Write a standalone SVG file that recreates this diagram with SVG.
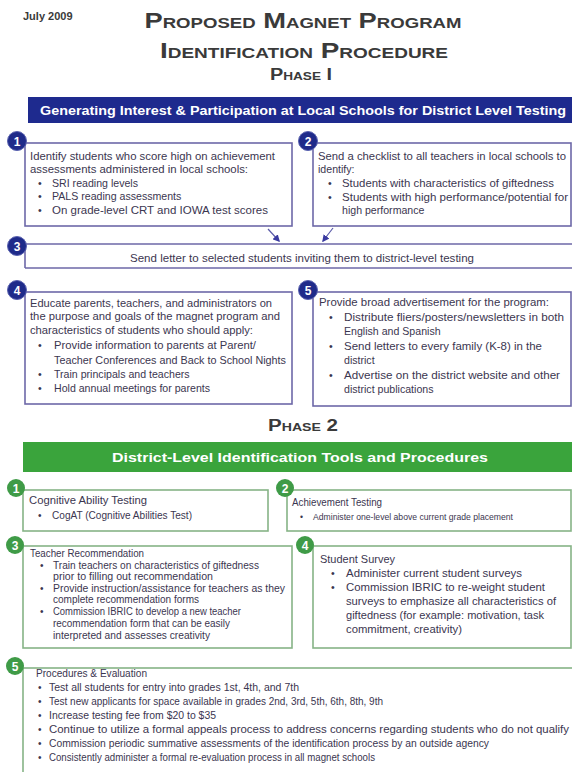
<svg xmlns="http://www.w3.org/2000/svg" width="572" height="772" viewBox="0 0 572 772">
<style>
text{font-family:"Liberation Sans",Arial,sans-serif;fill:#3b3650}
.t{font-size:10.6px}
.s{font-size:10px}
.xs{font-size:8.6px}
.hd{font-weight:bold;fill:#3a3a3a}
.ban{font-weight:bold;fill:#fff;font-size:12.5px}
.bx1{fill:#fff;stroke:#6d68a8;stroke-width:1.6}
.bx2{fill:#fff;stroke:#86b386;stroke-width:1.6}
.bd1{fill:#1f2b8a;stroke:#5a62b0;stroke-width:1}
.bd2{fill:#3f9b47}
.num{font-weight:bold;fill:#fff;font-size:12px;text-anchor:middle}
.arr{stroke:#5a5aa8;stroke-width:1.2;fill:none}
</style>
<defs>
<marker id="ah" viewBox="0 0 10 10" refX="8" refY="5" markerWidth="6" markerHeight="6" orient="auto-start-reverse">
<path d="M0,0 L10,5 L0,10 z" fill="#3a3aa0"/>
</marker>
</defs>
<rect width="572" height="772" fill="#fff"/>

<g id="header">
<text x="23" y="20" class="hd" font-size="11">July 2009</text>
<text x="303" y="28" class="hd" font-size="22" text-anchor="middle" font-variant="small-caps" textLength="317" lengthAdjust="spacingAndGlyphs">Proposed Magnet Program</text>
<text x="304" y="58" class="hd" font-size="22" text-anchor="middle" font-variant="small-caps" textLength="288" lengthAdjust="spacingAndGlyphs">Identification Procedure</text>
<text x="301" y="80" class="hd" font-size="16" text-anchor="middle" font-variant="small-caps" textLength="62" lengthAdjust="spacingAndGlyphs">Phase I</text>
<text x="303" y="431" class="hd" font-size="16" text-anchor="middle" font-variant="small-caps" textLength="70" lengthAdjust="spacingAndGlyphs">Phase 2</text>
</g>

<g id="banner1">
<rect x="28" y="97" width="544" height="26" fill="#1e2a8e"/>
<text x="303" y="115" class="ban" text-anchor="middle" textLength="526" lengthAdjust="spacingAndGlyphs">Generating Interest &amp; Participation at Local Schools for District Level Testing</text>
</g>

<g id="p1-box1">
<rect x="25" y="143" width="267" height="83" class="bx1"/>
<circle cx="17" cy="141" r="9.5" class="bd1"/><text x="17" y="145.5" class="num">1</text>
<text class="t" x="30" y="160" textLength="245" lengthAdjust="spacingAndGlyphs">Identify students who score high on achievement</text>
<text class="t" x="30" y="173" textLength="218" lengthAdjust="spacingAndGlyphs">assessments administered in local schools:</text>
<text class="t" x="38" y="187">•</text><text class="t" x="52" y="187">SRI reading levels</text>
<text class="t" x="38" y="200">•</text><text class="t" x="52" y="200">PALS reading assessments</text>
<text class="t" x="38" y="214">•</text><text class="t" x="52" y="214" textLength="216" lengthAdjust="spacingAndGlyphs">On grade-level CRT and IOWA test scores</text>
</g>

<g id="p1-box2">
<rect x="313" y="143" width="258" height="83" class="bx1"/>
<circle cx="308" cy="141" r="9.5" class="bd1"/><text x="308" y="145.5" class="num">2</text>
<text class="t" x="318" y="160" textLength="248" lengthAdjust="spacingAndGlyphs">Send a checklist to all teachers in local schools to</text>
<text class="t" x="318" y="173">identify:</text>
<text class="t" x="328" y="187">•</text><text class="t" x="342" y="187" textLength="212" lengthAdjust="spacingAndGlyphs">Students with characteristics of giftedness</text>
<text class="t" x="328" y="201">•</text><text class="t" x="342" y="201" textLength="226" lengthAdjust="spacingAndGlyphs">Students with high performance/potential for</text>
<text class="t" x="342" y="214">high performance</text>
</g>

<g id="p1-box3">
<path d="M25,244 H572 M25,268 H572 M25,244 V268" class="bx1" fill="none"/>
<circle cx="17" cy="246" r="9.5" class="bd1"/><text x="17" y="250.5" class="num">3</text>
<text class="t" x="302" y="262" text-anchor="middle" textLength="344" lengthAdjust="spacingAndGlyphs">Send letter to selected students inviting them to district-level testing</text>
</g>

<g id="p1-box4">
<rect x="25" y="292" width="267" height="112" class="bx1"/>
<circle cx="17" cy="290" r="9.5" class="bd1"/><text x="17" y="294.5" class="num">4</text>
<text class="t" x="30" y="307" textLength="242" lengthAdjust="spacingAndGlyphs">Educate parents, teachers, and administrators on</text>
<text class="t" x="30" y="320" textLength="250" lengthAdjust="spacingAndGlyphs">the purpose and goals of the magnet program and</text>
<text class="t" x="30" y="334" textLength="223" lengthAdjust="spacingAndGlyphs">characteristics of students who should apply:</text>
<text class="t" x="38" y="349">•</text><text class="t" x="54" y="349" textLength="202" lengthAdjust="spacingAndGlyphs">Provide information to parents at Parent/</text>
<text class="t" x="54" y="364" textLength="232" lengthAdjust="spacingAndGlyphs">Teacher Conferences and Back to School Nights</text>
<text class="t" x="38" y="378">•</text><text class="t" x="54" y="378">Train principals and teachers</text>
<text class="t" x="38" y="392">•</text><text class="t" x="54" y="392">Hold annual meetings for parents</text>
</g>

<g id="p1-box5">
<rect x="313" y="292" width="258" height="114" class="bx1"/>
<circle cx="308" cy="290" r="9.5" class="bd1"/><text x="308" y="294.5" class="num">5</text>
<text class="t" x="319" y="306" textLength="230" lengthAdjust="spacingAndGlyphs">Provide broad advertisement for the program:</text>
<text class="t" x="329" y="321">•</text><text class="t" x="344" y="321" textLength="220" lengthAdjust="spacingAndGlyphs">Distribute fliers/posters/newsletters in both</text>
<text class="t" x="344" y="335">English and Spanish</text>
<text class="t" x="329" y="350">•</text><text class="t" x="344" y="350" textLength="198" lengthAdjust="spacingAndGlyphs">Send letters to every family (K-8) in the</text>
<text class="t" x="344" y="364">district</text>
<text class="t" x="329" y="379">•</text><text class="t" x="344" y="379" textLength="216" lengthAdjust="spacingAndGlyphs">Advertise on the district website and other</text>
<text class="t" x="344" y="393">district publications</text>
</g>

<g id="connectors">
<line x1="268" y1="229" x2="279" y2="241" class="arr" marker-end="url(#ah)"/>
<line x1="333" y1="228" x2="323" y2="241" class="arr" marker-end="url(#ah)"/>
</g>

<g id="banner2">
<rect x="23" y="442" width="549" height="30" fill="#3aa43c"/>
<text x="300" y="462" class="ban" font-size="14" text-anchor="middle" textLength="376" lengthAdjust="spacingAndGlyphs">District-Level Identification Tools and Procedures</text>
</g>

<g id="p2-box1">
<rect x="23" y="490" width="245" height="41" class="bx2"/>
<circle cx="16" cy="488" r="9" class="bd2"/><text x="16" y="492.5" class="num">1</text>
<text class="s" x="29" y="504" textLength="118" lengthAdjust="spacingAndGlyphs">Cognitive Ability Testing</text>
<text class="s" x="38" y="519">•</text><text class="s" x="52" y="519" textLength="140" lengthAdjust="spacingAndGlyphs">CogAT (Cognitive Abilities Test)</text>
</g>

<g id="p2-box2">
<rect x="287" y="490" width="284" height="41" class="bx2"/>
<circle cx="285" cy="488" r="9" class="bd2"/><text x="285" y="492.5" class="num">2</text>
<text class="s" x="292" y="506" textLength="90" lengthAdjust="spacingAndGlyphs">Achievement Testing</text>
<text class="xs" x="300" y="520">•</text><text class="xs" x="313" y="520" textLength="200" lengthAdjust="spacingAndGlyphs">Administer one-level above current grade placement</text>
</g>

<g id="p2-box3">
<rect x="23" y="546" width="269" height="102" class="bx2"/>
<circle cx="15" cy="545" r="9" class="bd2"/><text x="15" y="549.5" class="num">3</text>
<text class="s" x="30" y="557" textLength="114" lengthAdjust="spacingAndGlyphs">Teacher Recommendation</text>
<text class="s" x="40" y="569">•</text><text class="s" x="53" y="569" textLength="206" lengthAdjust="spacingAndGlyphs">Train teachers on characteristics of giftedness</text>
<text class="s" x="53" y="580" textLength="160" lengthAdjust="spacingAndGlyphs">prior to filling out recommendation</text>
<text class="s" x="40" y="592">•</text><text class="s" x="53" y="592" textLength="232" lengthAdjust="spacingAndGlyphs">Provide instruction/assistance for teachers as they</text>
<text class="s" x="53" y="603" textLength="146" lengthAdjust="spacingAndGlyphs">complete recommendation forms</text>
<text class="s" x="40" y="615">•</text><text class="s" x="53" y="615" textLength="188" lengthAdjust="spacingAndGlyphs">Commission IBRIC to develop a new teacher</text>
<text class="s" x="53" y="627" textLength="177" lengthAdjust="spacingAndGlyphs">recommendation form that can be easily</text>
<text class="s" x="53" y="639" textLength="157" lengthAdjust="spacingAndGlyphs">interpreted and assesses creativity</text>
</g>

<g id="p2-box4">
<rect x="313" y="546" width="258" height="102" class="bx2"/>
<circle cx="305" cy="545" r="9" class="bd2"/><text x="305" y="549.5" class="num">4</text>
<text class="t" x="320" y="563" textLength="75" lengthAdjust="spacingAndGlyphs">Student Survey</text>
<text class="t" x="331" y="577">•</text><text class="t" x="346" y="577" textLength="176" lengthAdjust="spacingAndGlyphs">Administer current student surveys</text>
<text class="t" x="331" y="591">•</text><text class="t" x="346" y="591" textLength="199" lengthAdjust="spacingAndGlyphs">Commission IBRIC to re-weight student</text>
<text class="t" x="346" y="605" textLength="210" lengthAdjust="spacingAndGlyphs">surveys to emphasize all characteristics of</text>
<text class="t" x="346" y="619" textLength="198" lengthAdjust="spacingAndGlyphs">giftedness (for example: motivation, task</text>
<text class="t" x="346" y="633" textLength="116" lengthAdjust="spacingAndGlyphs">commitment, creativity)</text>
</g>

<g id="p2-box5">
<rect x="23" y="668" width="560" height="120" class="bx2"/>
<circle cx="15" cy="666" r="9" class="bd2"/><text x="15" y="670.5" class="num">5</text>
<text class="s" x="36" y="677" textLength="111" lengthAdjust="spacingAndGlyphs">Procedures &amp; Evaluation</text>
<text class="s" x="38" y="691">•</text><text class="s" x="49" y="691" textLength="250" lengthAdjust="spacingAndGlyphs">Test all students for entry into grades 1st, 4th, and 7th</text>
<text class="s" x="38" y="705">•</text><text class="s" x="49" y="705" textLength="334" lengthAdjust="spacingAndGlyphs">Test new applicants for space available in grades 2nd, 3rd, 5th, 6th, 8th, 9th</text>
<text class="s" x="38" y="719">•</text><text class="s" x="49" y="719" textLength="167" lengthAdjust="spacingAndGlyphs">Increase testing fee from $20 to $35</text>
<text class="s" x="38" y="733">•</text><text class="s" x="49" y="733" textLength="520" lengthAdjust="spacingAndGlyphs">Continue to utilize a formal appeals process to address concerns regarding students who do not qualify</text>
<text class="s" x="38" y="747">•</text><text class="s" x="49" y="747" textLength="440" lengthAdjust="spacingAndGlyphs">Commission periodic summative assessments of the identification process by an outside agency</text>
<text class="s" x="38" y="761">•</text><text class="s" x="49" y="761" textLength="326" lengthAdjust="spacingAndGlyphs">Consistently administer a formal re-evaluation process in all magnet schools</text>
</g>
</svg>
